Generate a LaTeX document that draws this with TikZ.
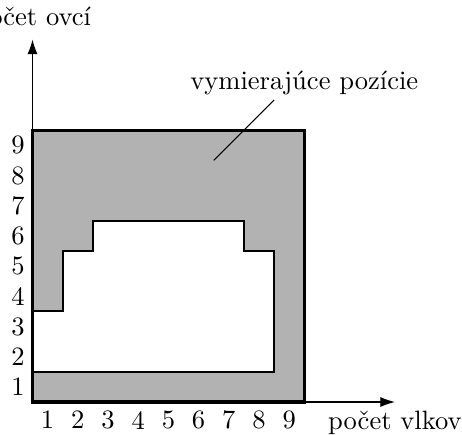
\documentclass[tikz,border=0pt]{standalone}
\usetikzlibrary{arrows.meta}
\begin{document}
\begin{tikzpicture}[x=0.4cm,y=0.4cm,
  axis/.style={line width=0.4pt,-{Latex[length=5.5pt,width=3.8pt]}},
  zone/.style={fill=black!30,draw=black,line width=1.2pt},
  free/.style={fill=white,draw=black,line width=0.8pt,line join=miter},
  tick/.style={inner sep=0pt}]
\useasboundingbox (-1.076,-1.06) rectangle (14.22,13.31);
% losing positions: the whole 9x9 board ...
\draw[zone] (0,0) rectangle (9,9);
% ... minus the stepped region of surviving positions
\draw[free] (0,1) -- (8,1) -- (8,5) -- (7,5) -- (7,6) -- (2,6) -- (2,5)
  -- (1,5) -- (1,3) -- (0,3) -- cycle;
% axes
\coordinate (o) at (0,0);
\coordinate (xe) at (12,0);
\coordinate (ye) at (0,12);
\draw[axis] (o) -- (xe);
\draw[axis] (o) -- (ye);
\node[above] (ylab) at (ye) {počet ovcí};
\node[below] (xlab) at (xe) {počet vlkov};
\foreach \i in {1,...,9} {
  \node[tick] (xt\i) at (\i-0.5,-0.6) {\i};
  \node[tick] (yt\i) at (-0.48,\i-0.5) {\i};
}
% annotation with its pointer
\node[anchor=base] (note) at (9,10.33) {vymierajúce pozície};
\coordinate (ptr) at (6,8);
\coordinate (ptrtop) at (8,10);
\draw[line width=0.4pt] (ptr) -- (ptrtop);
\end{tikzpicture}
\end{document}
